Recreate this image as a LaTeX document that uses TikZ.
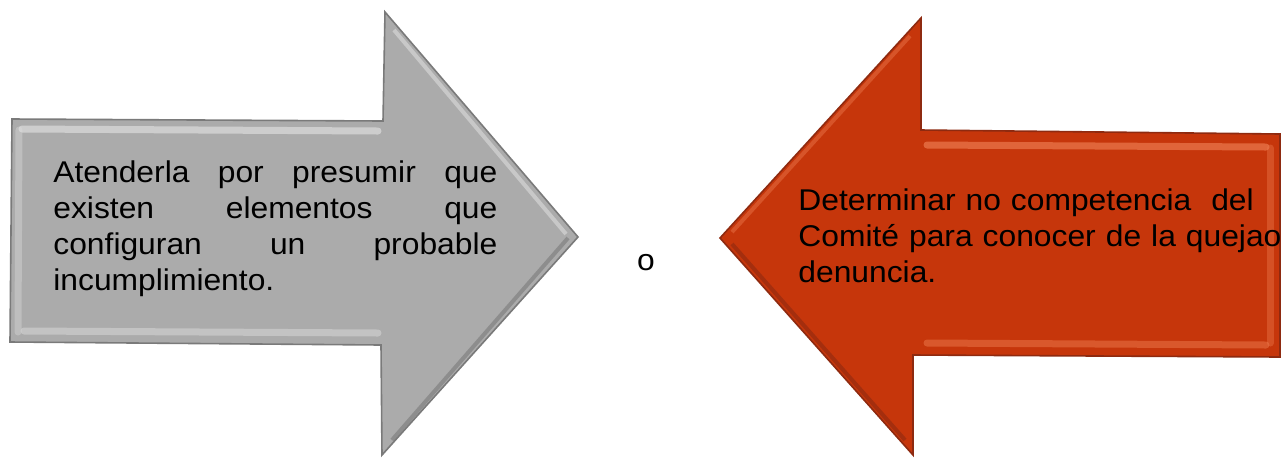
\documentclass[tikz,border=0pt]{standalone}
\usepackage{fontspec}
\setmainfont{Liberation Sans}[FakeStretch=1.06]
\usetikzlibrary{positioning}
\definecolor{grisfondo}{HTML}{ABABAB}
\definecolor{grisborde}{HTML}{7A7A7A}
\definecolor{grisluz}{HTML}{DCDCDC}
\definecolor{rojofondo}{HTML}{C6360B}
\definecolor{rojoborde}{HTML}{8E2A10}
\definecolor{rojoluz}{HTML}{EC7A4E}
\tikzset{
  textoflecha/.style={inner sep=0pt, font=\fontsize{15}{18}\selectfont, text=black},
  brillo/.style={line width=3.5, line cap=round, opacity=0.7},
}
\begin{document}
\begin{tikzpicture}[x=0.5pt,y=-0.5pt]
    \useasboundingbox (0,0) rectangle (1282,457);
    % flecha gris (derecha)
    \fill [grisfondo, draw=grisborde, line width=0.8] (12,119) -- (383,121) -- (385,12) -- (578,237) -- (382,455) -- (381,345) -- (10,342) -- cycle;
    \draw [brillo, grisluz] (22,129) -- (378,131);
    \draw [brillo, grisluz, opacity=0.5] (24,331) -- (378,333);
    \draw [brillo, grisluz, opacity=0.4] (19,130) -- (18,332);
    \draw [grisborde, line width=2, opacity=0.6] (392,440) -- (568,238);
    \draw [white, line width=2, opacity=0.35] (394,30) -- (566,234);
    \node [textoflecha, text width=222pt, align=justify, anchor=north west] (atender) at (53,160)
      {Atenderla por presumir que\linebreak existen elementos que\linebreak configuran un probable\linebreak incumplimiento.};
    % o
    \node [textoflecha, anchor=center] (o) at (646,263) {o};
    % flecha roja (izquierda)
    \fill [rojofondo, draw=rojoborde, line width=0.8] (720,238) -- (921,18) -- (921,130) -- (1280,134) -- (1280,357) -- (913,355) -- (913,455) -- cycle;
    \draw [brillo, rojoluz] (927,145) -- (1266,147);
    \draw [brillo, rojoluz, opacity=0.5] (927,343) -- (1266,345);
    \draw [brillo, rojoluz, opacity=0.4] (1270,148) -- (1270,343);
    \draw [rojoborde, line width=2, opacity=0.6] (732,244) -- (905,440);
    \draw [rojoluz, line width=2, opacity=0.45] (732,232) -- (910,36);
    \node [textoflecha, text width=250pt, align=left, anchor=north west] (determinar) at (798,188)
      {Determinar no competencia~ del\\Comité para conocer de la quejao\\denuncia.};
\end{tikzpicture}
\end{document}
